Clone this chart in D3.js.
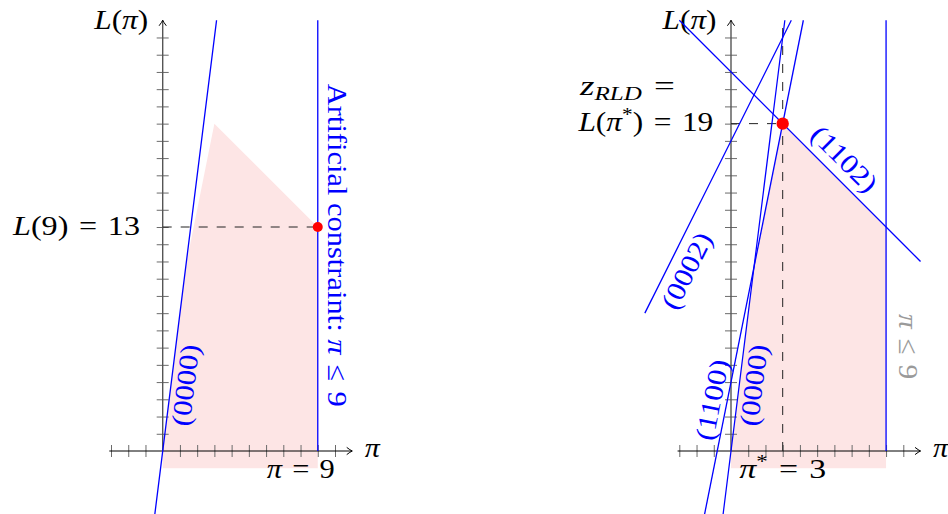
<!DOCTYPE html>
<html>
<head>
<meta charset="utf-8">
<script src="https://cdn.jsdelivr.net/npm/d3@7"></script>
<style>
  html, body { margin: 0; padding: 0; background: #fff; }
  svg { display: block; }
  text { font-family: "Liberation Serif", "Times New Roman", serif; }
</style>
</head>
<body>
<svg id="chart" width="948" height="514"></svg>
<script>
// Pieces of the Lagrangian dual L(pi) = min_k (slope_k * pi + intercept_k)
const pieceNames      = ["(0000)", "(1100)", "(0002)", "(1102)"];
const pieceSlopes     = [8, 5, 2, -1];
const pieceIntercepts = [0, 4, 18, 22];
// pi-interval over which each piece is drawn
const pieceFrom = [-0.5, -1.6, -5, -3];
const pieceTo   = [3.125, 4.2, 3.5, 11];

// Region under L(pi) for 0 <= pi <= 9 (down to L = -1)
const hullPi = [0, 0, 1.33, 3, 9, 9];
const hullL  = [-1, 0, 10.67, 19, 13, -1];

const xTicks = [-3, -2, -1, 1, 2, 3, 4, 5, 6, 7, 8, 9, 10];
const yTicks = d3.range(1, 25);

const piBound = 9;                 // artificial constraint pi <= 9
const boundValue = 13;             // L(9)
const piStar = 3, zStar = 19;      // dual optimum

const BLUE = "#0000ff", RED = "#ff0000", FILL = "#fde5e5";
const FS = 28;
const EQ = "\u2004=\u2004", LE = "\u2004≤\u2004";   // math spacing around relations
const unit = 17.23, baseY = 451;
const svg = d3.select("#chart");

// arrow heads for the axes
svg.append("defs").append("marker").attr("id", "arrow")
  .attr("viewBox", "-7 -5 9 10").attr("refX", 0).attr("refY", 0)
  .attr("markerWidth", 9).attr("markerHeight", 10).attr("markerUnits", "userSpaceOnUse")
  .attr("orient", "auto")
  .append("path")
  .attr("d", "M-5.5,-3.6 Q-2,-0.9 0,0 Q-2,0.9 -5.5,3.6")
  .attr("fill", "none").attr("stroke", "#000").attr("stroke-width", 1);

// Text built from parts ({t, i: italic, sub, sup}); stretched horizontally to `width`
function label(parent, parts, o) {
  const t = parent.append("text")
    .attr("text-anchor", o.anchor || "start")
    .attr("font-size", o.size || FS)
    .attr("fill", o.fill || "#000")
    .attr("dy", o.dy || 0);
  let shift = 0;
  parts.forEach(p => {
    const s = t.append("tspan").text(p.t);
    if (p.i) s.attr("font-style", "italic");
    const target = p.sup ? -10 : p.sub ? 5 : 0;
    if (p.sup || p.sub) s.attr("font-size", 19);
    if (target !== shift) { s.attr("dy", target - shift); shift = target; }
  });
  const w = t.node().getComputedTextLength();
  const sx = o.width ? o.width / w : 1;
  t.attr("transform", `translate(${o.x},${o.y}) rotate(${o.angle || 0}) scale(${sx},1)`);
  return t;
}

function makePanel(originX) {
  const x = d3.scaleLinear().domain([0, 1]).range([originX, originX + unit]);
  const y = d3.scaleLinear().domain([0, 1]).range([baseY, baseY - unit]);
  return { x, y, g: svg.append("g") };
}

const line = (sc) => d3.line().x(d => sc.x(d[0])).y(d => sc.y(d[1]));

function drawRegion(p) {
  p.g.append("path")
    .attr("d", line(p)(hullPi.map((v, i) => [v, hullL[i]])) + "Z")
    .attr("fill", FILL);
}

function drawAxes(p) {
  const tickColor = "#6b6b6b";
  // ticks on both sides of each axis
  [d3.axisBottom(p.x), d3.axisTop(p.x)].forEach(ax => {
    const a = p.g.append("g").attr("transform", `translate(0,${p.y(0)})`)
      .call(ax.tickValues(xTicks).tickSize(6).tickFormat(""));
    a.select(".domain").remove();
    a.selectAll("line").attr("stroke", tickColor).attr("stroke-width", 1);
  });
  [d3.axisLeft(p.y), d3.axisRight(p.y)].forEach(ax => {
    const a = p.g.append("g").attr("transform", `translate(${p.x(0)},0)`)
      .call(ax.tickValues(yTicks).tickSize(6).tickFormat(""));
    a.select(".domain").remove();
    a.selectAll("line").attr("stroke", tickColor).attr("stroke-width", 1);
  });
  p.g.append("line")
    .attr("x1", p.x(-3.1)).attr("x2", p.x(11)).attr("y1", p.y(0)).attr("y2", p.y(0))
    .attr("stroke", "#000").attr("stroke-width", 1).attr("marker-end", "url(#arrow)");
  p.g.append("line")
    .attr("x1", p.x(0)).attr("x2", p.x(0)).attr("y1", p.y(0)).attr("y2", p.y(25))
    .attr("stroke", "#555").attr("stroke-width", 1.4).attr("marker-end", "url(#arrow)");
  label(p.g, [{ t: "π", i: true }], { x: p.x(11) + 12.5, y: p.y(0) + 6, width: 15 });
  label(p.g, [{ t: "L", i: true }, { t: "(" }, { t: "π", i: true }, { t: ")" }],
    { x: p.x(0) - 14.5, y: 29, anchor: "end", width: 54 });
}

function drawPiece(p, k, from, to) {
  const f = v => pieceSlopes[k] * v + pieceIntercepts[k];
  p.g.append("path").attr("d", line(p)([[from, f(from)], [to, f(to)]]))
    .attr("stroke", BLUE).attr("stroke-width", 1.3).attr("fill", "none");
}

function drawBound(p) {
  p.g.append("line")
    .attr("x1", p.x(piBound)).attr("x2", p.x(piBound)).attr("y1", p.y(0)).attr("y2", p.y(25))
    .attr("stroke", BLUE).attr("stroke-width", 1.3);
}

// piece name placed along the piece, rotated to its slope, shifted across it by `offset` px
function slopedLabel(p, k, atPi, offset) {
  const f = v => pieceSlopes[k] * v + pieceIntercepts[k];
  const x0 = p.x(atPi), y0 = p.y(f(atPi));
  const x1 = p.x(atPi + 1), y1 = p.y(f(atPi + 1));
  let ang = Math.atan2(y1 - y0, x1 - x0) * 180 / Math.PI;
  if (ang > 90) ang -= 180;
  if (ang <= -90) ang += 180;
  const r = ang * Math.PI / 180;
  label(p.g, [{ t: pieceNames[k] }], {
    x: x0 + offset * Math.sin(r), y: y0 - offset * Math.cos(r), angle: ang,
    anchor: "middle", dy: "0.3em", fill: BLUE, width: 82, size: 27
  });
}

function dashed(p, a, b) {
  p.g.append("path").attr("d", line(p)([a, b]))
    .attr("stroke", "#222").attr("stroke-width", 1).attr("fill", "none")
    .attr("stroke-dasharray", "9 9");
}

// ---------- left panel: relaxation bounded by the artificial constraint ----------
const L = makePanel(162.7);
drawRegion(L);
drawAxes(L);
dashed(L, [0, boundValue], [piBound, boundValue]);
drawPiece(L, 0, pieceFrom[0], pieceTo[0]);
drawBound(L);
L.g.append("circle").attr("cx", L.x(piBound)).attr("cy", L.y(boundValue)).attr("r", 5).attr("fill", RED);
slopedLabel(L, 0, 0.49, -15.4);

label(L.g, [{ t: "Artificial constraint: " }, { t: "π", i: true }, { t: LE + "9" }], {
  x: L.x(piBound) + 19.8, y: L.y(11.94), angle: 90, anchor: "middle", dy: "0.33em",
  fill: BLUE, width: 323
});
label(L.g, [{ t: "L", i: true }, { t: `(${piBound})${EQ}${boundValue}` }],
  { x: L.x(0) - 22.7, y: L.y(boundValue) + 8.3, anchor: "end", width: 127 });
label(L.g, [{ t: "π", i: true }, { t: `${EQ}${piBound}` }],
  { x: L.x(piBound) - 17, y: L.y(0) + 27, anchor: "middle", width: 68 });

// ---------- right panel: all pieces, optimum at pi* ----------
const R = makePanel(731);
drawRegion(R);
drawAxes(R);
dashed(R, [0, zStar], [piStar, zStar]);
dashed(R, [piStar, 0], [piStar, 25]);
pieceNames.forEach((_, k) => drawPiece(R, k, pieceFrom[k], pieceTo[k]));
drawBound(R);
R.g.append("circle").attr("cx", R.x(piStar)).attr("cy", R.y(zStar)).attr("r", 6.2).attr("fill", RED);

slopedLabel(R, 0, 0.49, -15.4);
slopedLabel(R, 1, -0.24, 14.1);
slopedLabel(R, 2, -3.53, -19.4);
slopedLabel(R, 3, 5.81, 17.7);

label(R.g, [{ t: "π", i: true }, { t: LE + "9" }], {
  x: R.x(piBound) + 22, y: R.y(6.06), angle: 90, anchor: "middle", dy: "0.33em",
  fill: "#9a9a9a", width: 65
});

label(R.g, [{ t: "z", i: true }, { t: "RLD", i: true, sub: true }, { t: "\u2004=" }],
  { x: 580, y: 95, width: 95 });
label(R.g, [{ t: "L", i: true }, { t: "(" }, { t: "π", i: true }, { t: "*", sup: true }, { t: `)${EQ}${zStar}` }],
  { x: R.x(0) - 17.7, y: R.y(zStar) + 7.7, anchor: "end", width: 135 });
label(R.g, [{ t: "π", i: true }, { t: "*", sup: true }, { t: `${EQ}${piStar}` }],
  { x: R.x(piStar), y: R.y(0) + 27, anchor: "middle", width: 87 });
</script>
</body>
</html>
